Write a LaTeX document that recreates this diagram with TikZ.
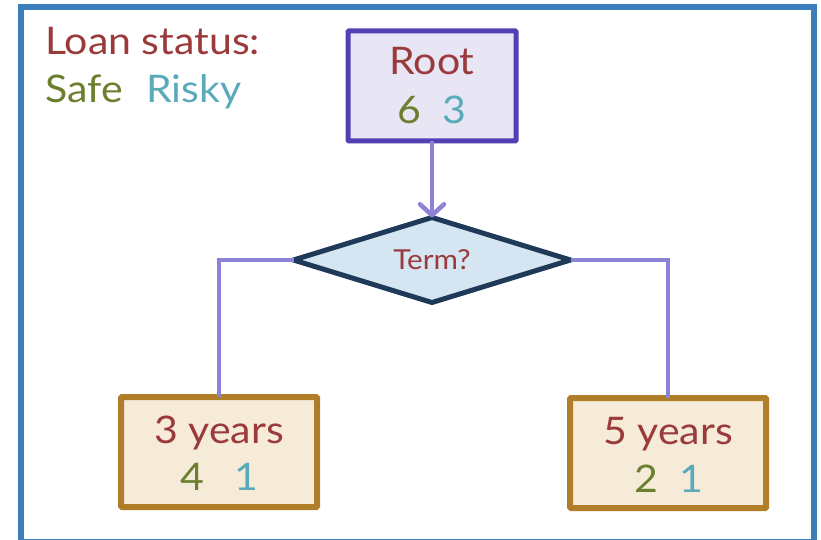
\documentclass[tikz,border=0pt]{standalone}
\usepackage{fontspec}
\setmainfont{Lato}[FakeStretch=1.08]
\usetikzlibrary{shapes.geometric,arrows.meta}
\definecolor{frameblue}{HTML}{3A7EBB}
\definecolor{txtred}{HTML}{9A3A3A}
\definecolor{safegreen}{HTML}{6B7F2E}
\definecolor{riskyteal}{HTML}{5AAAB9}
\definecolor{rootdraw}{HTML}{5040B4}
\definecolor{rootfill}{HTML}{E8E5F5}
\definecolor{linkpurple}{HTML}{8C82D8}
\definecolor{dianavy}{HTML}{1E3A58}
\definecolor{diafill}{HTML}{D5E5F2}
\definecolor{leafdraw}{HTML}{B07D28}
\definecolor{leaffill}{HTML}{F6EBD9}
\tikzset{
  rootbox/.style={draw=rootdraw, fill=rootfill, line width=5pt, rectangle, rounded corners=1pt, inner sep=0pt, outer sep=0pt, minimum width=168pt, minimum height=110pt},
  leafbox/.style={draw=leafdraw, fill=leaffill, line width=6pt, rectangle, rounded corners=1pt, inner sep=0pt, outer sep=0pt, minimum width=196pt, minimum height=110pt},
  decision/.style={diamond, draw=dianavy, fill=diafill, line width=5pt, inner sep=0pt, outer sep=0pt, minimum width=277pt, minimum height=85pt, aspect=3.26, text=txtred, font=\fontsize{27.5}{32}\selectfont},
  bigtxt/.style={anchor=base, inner sep=0pt, font=\fontsize{38}{44}\selectfont},
  link/.style={draw=linkpurple, line width=4.5pt},
  linkarrow/.style={link, -{Straight Barb[length=11pt,width=24pt,line width=4.5pt,round]}},
}
\begin{document}
\begin{tikzpicture}[x=1pt,y=-1pt]
\useasboundingbox (0,0) rectangle (821,540);
\fill[white] (0,0) rectangle (821,540);
\draw[frameblue, line width=6pt] (21,7) rectangle (814,542);
% legend
\node[bigtxt, anchor=base west, text=txtred] (legtitle) at (45,55) {Loan status:};
\node[bigtxt, anchor=base west, text=safegreen] (legsafe) at (45,103) {Safe};
\node[bigtxt, anchor=base west, text=riskyteal] (legrisky) at (146,103) {Risky};
% nodes
\node[rootbox] (root) at (432,86) {};
\node[bigtxt, text=txtred] (roottxt) at (432,75) {Root};
\node[bigtxt, text=safegreen] (root6) at (409,124) {6};
\node[bigtxt, text=riskyteal] (root3) at (454,124) {3};
\node[decision] (term) at (432,260) {Term?};
\node[leafbox] (left) at (219,452) {};
\node[bigtxt, text=txtred] (lefttxt) at (219,443) {3 years};
\node[bigtxt, text=safegreen] (left4) at (192,490) {4};
\node[bigtxt, text=riskyteal] (left1) at (246,490) {1};
\node[leafbox] (right) at (668,453) {};
\node[bigtxt, text=txtred] (righttxt) at (668,444) {5 years};
\node[bigtxt, text=safegreen] (right2) at (646,492) {2};
\node[bigtxt, text=riskyteal] (right1) at (691,492) {1};
% connectors
\draw[linkarrow] (root.south) -- (term.north);
\draw[link] (term.west) -| (left.north);
\draw[link] (term.east) -| (right.north);
\end{tikzpicture}
\end{document}
